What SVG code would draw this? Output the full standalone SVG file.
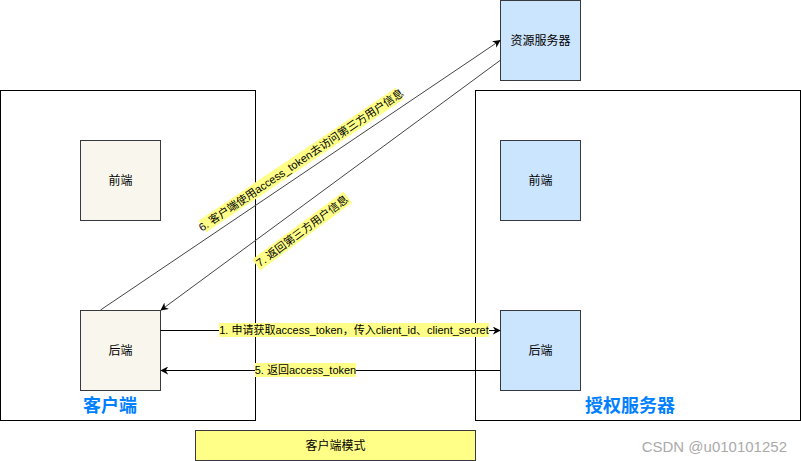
<svg xmlns="http://www.w3.org/2000/svg" width="801" height="461" viewBox="0 0 801 461">
<style>
text{font-family:"Liberation Sans","Noto Sans CJK SC",sans-serif;}
.box{fill:#fff;stroke:#000;stroke-width:1;}
.beige{fill:#f9f7ed;stroke:#36393d;stroke-width:1;}
.blue{fill:#cce5ff;stroke:#36393d;stroke-width:1;}
.yel{fill:#ffff88;stroke:#36393d;stroke-width:1;}
.nt{font-size:12px;fill:#000;text-anchor:middle;dominant-baseline:central;}
.big{font-size:18px;font-weight:bold;fill:#007fff;text-anchor:middle;dominant-baseline:central;}
.el{font-size:11px;fill:#000;text-anchor:middle;dominant-baseline:central;}
.lbg{fill:#ffff88;}
.edge{fill:none;stroke:#000;stroke-width:1;}
.dia{fill:none;stroke:#444;stroke-width:1;}
</style>
<defs>
<marker id="ah" viewBox="0 0 10 10" refX="9" refY="5" markerWidth="8" markerHeight="8" markerUnits="userSpaceOnUse" orient="auto">
<path d="M0,0 L10,5 L0,10 L3,5 Z" fill="#000"/>
</marker>
</defs>
<rect width="801" height="461" fill="#fff"/>
<g id="client">
<rect class="box" x="0.5" y="90.5" width="255" height="330"/>
<text class="big" x="110" y="406">客户端</text>
</g>
<g id="authserver">
<rect class="box" x="475.5" y="90.5" width="325" height="330"/>
<text class="big" x="630" y="406">授权服务器</text>
</g>
<g id="client-front">
<rect class="beige" x="80.5" y="140.5" width="80" height="80"/>
<text class="nt" x="120.5" y="180.5">前端</text>
</g>
<g id="client-back">
<rect class="beige" x="80.5" y="310.5" width="80" height="80"/>
<text class="nt" x="120.5" y="350.5">后端</text>
</g>
<g id="auth-front">
<rect class="blue" x="500.5" y="140.5" width="80" height="80"/>
<text class="nt" x="540.5" y="180.5">前端</text>
</g>
<g id="auth-back">
<rect class="blue" x="500.5" y="310.5" width="80" height="80"/>
<text class="nt" x="540.5" y="350.5">后端</text>
</g>
<g id="resource">
<rect class="blue" x="500.5" y="0.5" width="80" height="80"/>
<text class="nt" x="540.5" y="40.5">资源服务器</text>
</g>
<g id="mode">
<rect class="yel" x="195.5" y="430.5" width="280" height="30"/>
<text class="nt" x="335.5" y="445.5">客户端模式</text>
</g>
<g id="connectors">
<line class="edge" x1="160.5" y1="330.5" x2="500" y2="330.5" marker-end="url(#ah)"/>
<rect class="lbg" x="219" y="323" width="270" height="14"/>
<text class="el" x="354" y="330">1. 申请获取access_token，传入client_id、client_secret</text>
<line class="edge" x1="500" y1="370.5" x2="161" y2="370.5" marker-end="url(#ah)"/>
<rect class="lbg" x="255" y="363" width="101" height="14"/>
<text class="el" x="305.5" y="370">5. 返回access_token</text>
<line class="dia" x1="100.5" y1="310" x2="500" y2="40.5" marker-end="url(#ah)"/>
<line class="dia" x1="500" y1="60.5" x2="161" y2="310" marker-end="url(#ah)"/>
<g transform="translate(301,160) rotate(-34)">
<rect class="lbg" x="-119" y="-7" width="238" height="14"/>
<text class="el" x="0" y="0">6. 客户端使用access_token去访问第三方用户信息</text>
</g>
<g transform="translate(302,231) rotate(-36.6)">
<rect class="lbg" x="-57" y="-7" width="114" height="14"/>
<text class="el" x="0" y="0">7. 返回第三方用户信息</text>
</g>
</g>
<text x="787" y="446" font-size="15" fill="#aaa" text-anchor="end" dominant-baseline="central">CSDN @u010101252</text>
</svg>
